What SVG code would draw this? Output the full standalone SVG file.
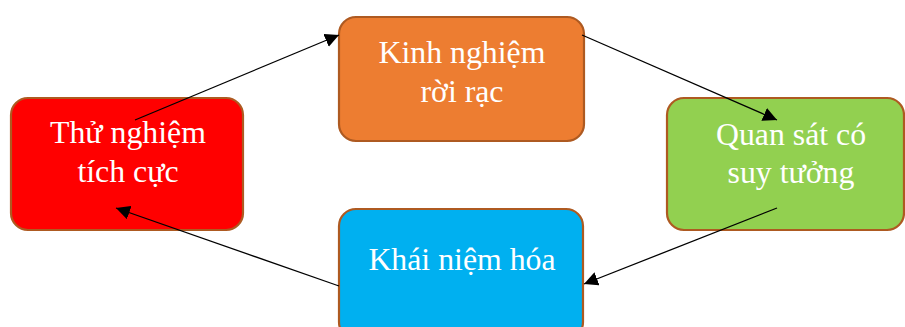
<svg xmlns="http://www.w3.org/2000/svg" width="905" height="327" viewBox="0 0 905 327">
<style>
.box{stroke:#AE5A21;stroke-width:2.2}
.t{font-family:"Liberation Serif","Times New Roman",serif;font-size:31.8px;fill:#FFFFFF;text-anchor:middle}
.c{stroke:#000;stroke-width:1.3;fill:none;marker-end:url(#ah)}
</style>
<defs>
<marker id="ah" viewBox="0 0 10 10" refX="10" refY="5" markerWidth="14" markerHeight="14" markerUnits="userSpaceOnUse" orient="auto">
<path d="M0,0 L10,5 L0,10 z" fill="#000"/>
</marker>
</defs>
<g id="node-kinh">
<rect class="box" x="339" y="17" width="245" height="124" rx="17" fill="#ED7D31"/>
<text class="t" x="462" y="63">Kinh nghiệm</text>
<text class="t" x="462" y="102">rời rạc</text>
</g>
<g id="node-thu">
<rect class="box" x="11" y="98" width="232" height="132" rx="17" fill="#FF0000"/>
<text class="t" x="128" y="143">Thử nghiệm</text>
<text class="t" x="128" y="182">tích cực</text>
</g>
<g id="node-quan">
<rect class="box" x="667" y="98" width="237" height="132" rx="17" fill="#92D050"/>
<text class="t" x="791" y="145">Quan sát có</text>
<text class="t" x="791" y="183">suy tưởng</text>
</g>
<g id="node-khai">
<rect class="box" x="339" y="209" width="244" height="130" rx="17" fill="#00B0F0"/>
<text class="t" x="462" y="270">Khái niệm hóa</text>
</g>
<g id="connectors">
<line class="c" x1="135" y1="120" x2="339" y2="35"/>
<line class="c" x1="582" y1="35" x2="777" y2="120"/>
<line class="c" x1="777" y1="208" x2="584" y2="284"/>
<line class="c" x1="339" y1="286" x2="116" y2="208"/>
</g>
</svg>
